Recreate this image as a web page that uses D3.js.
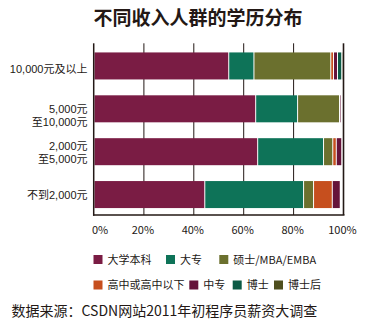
<!DOCTYPE html>
<html><head><meta charset="utf-8">
<script src="https://cdn.jsdelivr.net/npm/d3@7"></script>
<style>
html,body{margin:0;padding:0;background:#fff;}
svg{display:block;font-family:"Noto Sans CJK SC","Noto Sans",sans-serif;}
</style></head>
<body><svg id="c" width="365" height="330"></svg>
<script>
const title = "不同收入人群的学历分布";
const source = "数据来源：CSDN网站2011年初程序员薪资大调查";
const categories = ["10,000元及以上", "5,000元\n至10,000元", "2,000元\n至5,000元", "不到2,000元"];
const seriesNames = ["大学本科", "大专", "硕士/MBA/EMBA", "高中或高中以下", "中专", "博士", "博士后"];
const colors = ["#7a1c44", "#0e7358", "#6b702e", "#c64f1e", "#65133a", "#0b5a45", "#4f4f1e"];
// values per series, in category order
const s_benke  = [54.0, 64.8, 65.6, 44.4];
const s_dazhuan = [10.1, 16.8, 26.4, 39.6];
const s_shuoshi = [30.8, 16.8, 3.7, 4.0];
const s_gaozhong = [1.1, 0.2, 1.4, 7.5];
const s_zhongzhuan = [1.6, 0.6, 2.2, 3.2];
const s_boshi = [1.7, 0.3, 0.3, 0.2];
const s_boshihou = [0.5, 0.1, 0.2, 0.1];
const seriesValues = [s_benke, s_dazhuan, s_shuoshi, s_gaozhong, s_zhongzhuan, s_boshi, s_boshihou];
const tickValues = [0, 20, 40, 60, 80, 100];

const svg = d3.select("#c");
const ink = "#231815";

svg.append("text").attr("x", 198).attr("y", 25).attr("text-anchor", "middle")
  .attr("font-size", 19).attr("font-weight", 700).attr("fill", ink).text(title);

const x = d3.scaleLinear().domain([0, 100]).range([94, 343.5]);
const y = d3.scaleBand().domain(categories).range([43, 217.5]).paddingInner(0.37).paddingOuter(0.22);
const plotTop = 43.3, plotBottom = 215;

// gridlines
svg.append("g").selectAll("line").data(tickValues.slice(1)).join("line")
  .attr("x1", d => x(d)).attr("x2", d => x(d))
  .attr("y1", plotTop).attr("y2", plotBottom)
  .attr("stroke", ink).attr("stroke-width", d => d === 100 ? 1.6 : 1);

// stacked data
const rows = categories.map((c, i) => {
  const o = {cat: c};
  seriesNames.forEach((s, j) => o[s] = seriesValues[j][i]);
  return o;
});
const stack = d3.stack().keys(seriesNames)(rows);

svg.append("g").selectAll("g").data(stack).join("g")
  .attr("fill", (d, i) => colors[i])
  .selectAll("rect").data(d => d).join("rect")
  .attr("x", d => x(d[0]) + 0.5)
  .attr("width", d => Math.max(0, x(d[1]) - x(d[0]) - 1))
  .attr("y", d => y(d.data.cat))
  .attr("height", y.bandwidth());

// axes lines
svg.append("line").attr("x1", 93.7).attr("x2", 93.7).attr("y1", plotTop).attr("y2", plotBottom + 0.7)
  .attr("stroke", ink).attr("stroke-width", 1.5);
svg.append("line").attr("x1", 93).attr("x2", 344.5).attr("y1", plotBottom).attr("y2", plotBottom)
  .attr("stroke", ink).attr("stroke-width", 1.5);

// x tick labels
svg.append("g").selectAll("text").data(tickValues).join("text")
  .attr("x", d => d === 0 ? 92 : x(d) - 1)
  .attr("y", 234)
  .attr("text-anchor", d => d === 0 ? "start" : "middle")
  .attr("font-size", 11).attr("fill", ink)
  .text(d => d + "%");

// y labels: each line as its own text element
const shifts = [3, 7, 1, 0.5];
const lab = svg.append("g");
categories.forEach((c, i) => {
  const lines = c.split("\n");
  const cy = y(c) + y.bandwidth() / 2 + shifts[i];
  const lh = 13;
  lines.forEach((l, k) => {
    lab.append("text").attr("text-anchor", "end").attr("font-size", 11).attr("fill", ink)
      .attr("font-family", "'Liberation Sans','Noto Sans CJK SC',sans-serif")
      .attr("x", 87.5)
      .attr("y", cy + (k - (lines.length - 1) / 2) * lh + 4)
      .text(l);
  });
});

// legend
const legendPos = [[93.5, 259.5], [166, 259.5], [219.3, 259.5], [93.5, 285], [189.3, 285], [232.7, 285], [274, 285]];
const lg = svg.append("g");
seriesNames.forEach((s, i) => {
  const [lx, ly] = legendPos[i];
  lg.append("rect").attr("x", lx).attr("y", ly - 4.5).attr("width", 9).attr("height", 9).attr("fill", colors[i]);
  lg.append("text").attr("x", lx + 14).attr("y", ly + 4).attr("font-size", 11).attr("fill", ink).text(s);
});

svg.append("text").attr("x", 11.5).attr("y", 315.5).attr("font-size", 14).attr("fill", ink).text(source);
</script></body></html>
